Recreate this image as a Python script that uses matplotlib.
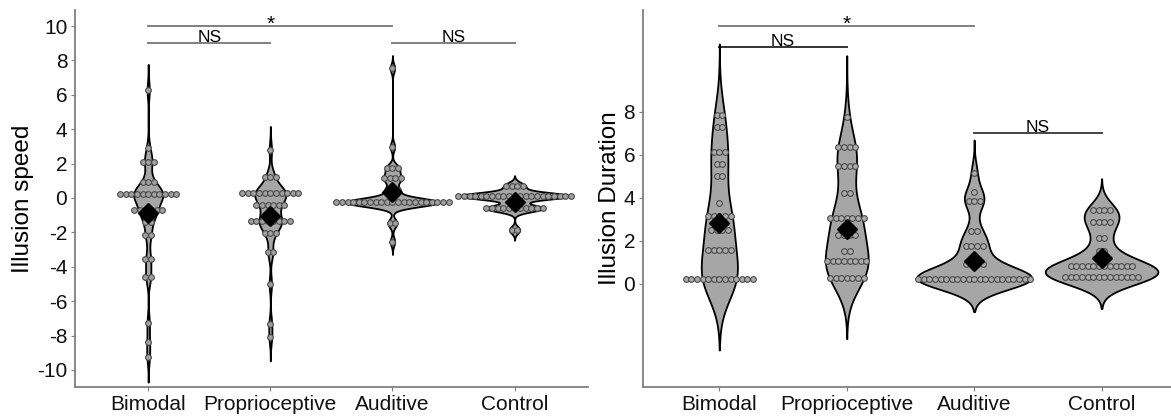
import numpy as np
import matplotlib.pyplot as plt

plt.rcParams['font.family'] = ['Liberation Sans', 'DejaVu Sans']
plt.rcParams['axes.unicode_minus'] = False

groups = ["Bimodal", "Proprioceptive", "Auditive", "Control"]

# Illusion speed: each dot row as (value, number of dots)
speed_bimodal_vals = [6.28, 2.89, 2.11, 0.91, 0.21, -0.70, -1.38, -2.15, -3.57, -4.57, -7.29, -8.35, -9.22]
speed_bimodal_counts = [1, 1, 3, 3, 11, 6, 2, 2, 2, 2, 1, 1, 1]
speed_proprio_vals = [2.79, 1.24, 0.31, -0.41, -1.34, -2.02, -3.16, -5.0, -7.3, -8.1]
speed_proprio_counts = [1, 3, 11, 6, 8, 3, 2, 1, 1, 1]
speed_auditive_vals = [7.54, 2.98, 1.72, 1.14, 0.47, -0.25, -1.47, -2.54]
speed_auditive_counts = [1, 1, 3, 4, 3, 21, 2, 1]
speed_control_vals = [0.70, 0.12, -0.60, -1.86]
speed_control_counts = [4, 21, 11, 2]
speed_means = [-0.9, -1.05, 0.37, -0.21]

# Illusion duration
dur_bimodal_vals = [7.86, 7.32, 6.12, 5.58, 5.02, 3.78, 3.18, 2.51, 1.58, 0.23]
dur_bimodal_counts = [2, 2, 3, 2, 2, 1, 5, 4, 5, 13]
dur_proprio_vals = [7.78, 6.36, 5.50, 4.25, 3.08, 2.28, 1.55, 1.07, 0.29]
dur_proprio_counts = [1, 4, 4, 2, 7, 4, 2, 8, 7]
dur_auditive_vals = [5.18, 4.26, 3.88, 2.47, 1.77, 0.91, 0.23]
dur_auditive_counts = [1, 1, 3, 2, 4, 4, 21]
dur_control_vals = [3.44, 2.88, 2.12, 1.55, 0.84, 0.31]
dur_control_counts = [4, 4, 2, 2, 12, 14]
dur_means = [2.82, 2.56, 1.07, 1.19]

# significance brackets
speed_sig_pairs = [(0, 2), (0, 1), (2, 3)]
speed_sig_y = [10, 9, 9]
speed_sig_labels = ["*", "NS", "NS"]
dur_sig_pairs = [(0, 2), (0, 1), (2, 3)]
dur_sig_y = [12, 11, 7]
dur_sig_labels = ["*", "NS", "NS"]


def nrd0(x):
    hi = np.std(x, ddof=1)
    q75, q25 = np.percentile(x, [75, 25])
    lo = min(hi, (q75 - q25) / 1.34)
    if lo == 0:
        lo = hi
    return 0.9 * lo * len(x) ** -0.2


def kde(x, adjust):
    bw = nrd0(x) * adjust
    y = np.linspace(x.min() - 3 * bw, x.max() + 3 * bw, 512)
    d = np.exp(-0.5 * ((y[:, None] - x[None, :]) / bw) ** 2).sum(axis=1)
    d = d / (len(x) * bw * np.sqrt(2 * np.pi))
    return y, d


def draw_panel(ax, rows, means, dot_fill, dot_step, adjust):
    samples = [np.repeat(v, c) for v, c in rows]
    dens = [kde(np.asarray(s, dtype=float), adjust) for s in samples]
    dmax = max(d.max() for _, d in dens)
    for i, (y, d) in enumerate(dens):
        pos = i + 1
        hw = 0.45 * d / dmax
        ax.fill_betweenx(y, pos - hw, pos + hw, facecolor="#a6a6a6",
                         edgecolor="black", linewidth=1.3, zorder=2)
        vals, counts = rows[i]
        for v, n in zip(vals, counts):
            xs = pos + (np.arange(n) - (n - 1) / 2) * dot_step
            ax.scatter(xs, [v] * n, s=17, facecolor=dot_fill,
                       edgecolor="#4a4a4a", linewidth=0.8, zorder=3)
    ax.plot(np.arange(1, 5), means, "D", color="black", markersize=10, zorder=4)


def draw_sig(ax, pairs, ys, labels, colors):
    for (a, b), y, lab, c in zip(pairs, ys, labels, colors):
        ax.plot([a + 1, b + 1], [y, y], color=c, linewidth=1.4, zorder=1,
                clip_on=False)
        if lab == "*":
            ax.annotate(lab, ((a + b) / 2 + 1, y), xytext=(0, -3),
                        textcoords="offset points", ha="center", va="baseline",
                        fontsize=15)
        else:
            ax.annotate(lab, ((a + b) / 2 + 1, y), xytext=(0, 1),
                        textcoords="offset points", ha="center", va="baseline",
                        fontsize=12.5)


def style_axis(ax):
    for s in ["top", "right"]:
        ax.spines[s].set_visible(False)
    for s in ["left", "bottom"]:
        ax.spines[s].set_color("#7f7f7f")
        ax.spines[s].set_linewidth(1.3)
    ax.tick_params(axis="both", colors="#7f7f7f", labelcolor="#111111",
                   labelsize=15, length=3, pad=2.5)
    ax.set_xlim(0.4, 4.6)
    ax.set_xticks(range(1, 5))
    ax.set_xticklabels(groups)


fig = plt.figure(figsize=(11.71, 4.17), dpi=100)

ax1 = fig.add_axes([0.064, 0.072, 0.438, 0.904])
speed_rows = [(speed_bimodal_vals, speed_bimodal_counts),
              (speed_proprio_vals, speed_proprio_counts),
              (speed_auditive_vals, speed_auditive_counts),
              (speed_control_vals, speed_control_counts)]
draw_panel(ax1, speed_rows, speed_means, "#a0a0a0", 0.046, 0.85)
draw_sig(ax1, speed_sig_pairs, speed_sig_y, speed_sig_labels,
         ["#808080", "#808080", "#808080"])
style_axis(ax1)
ax1.set_ylim(-10.99, 10.93)
ax1.set_yticks(range(-10, 11, 2))
ax1.set_ylabel("Illusion speed", fontsize=17.5, labelpad=2)

ax2 = fig.add_axes([0.549, 0.072, 0.457, 0.904])
dur_rows = [(dur_bimodal_vals, dur_bimodal_counts),
            (dur_proprio_vals, dur_proprio_counts),
            (dur_auditive_vals, dur_auditive_counts),
            (dur_control_vals, dur_control_counts)]
draw_panel(ax2, dur_rows, dur_means, "#ababab", 0.044, 1.0)
draw_sig(ax2, dur_sig_pairs, dur_sig_y, dur_sig_labels,
         ["#808080", "#333333", "#444444"])
style_axis(ax2)
ax2.set_ylim(-4.79, 12.74)
ax2.set_yticks(range(0, 9, 2))
ax2.set_ylabel("Illusion Duration", fontsize=17.5, labelpad=2)

fig.savefig("out.png", dpi=100)
